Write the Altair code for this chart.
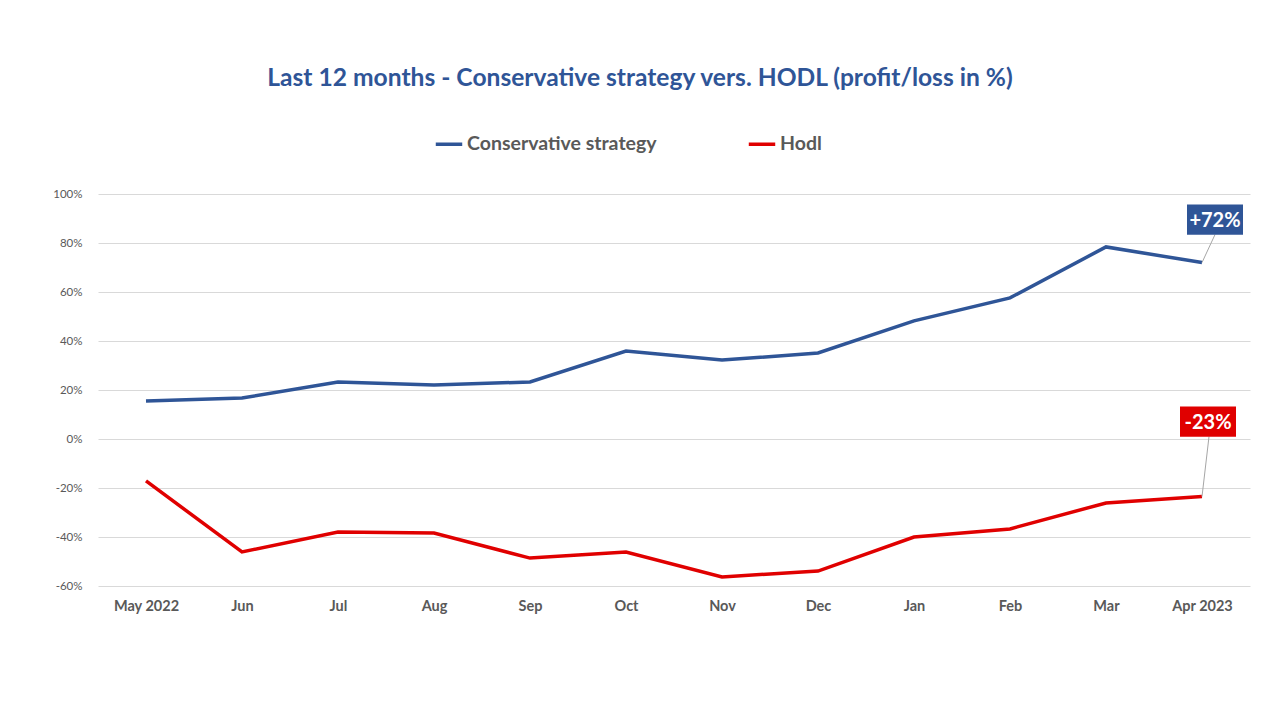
import altair as alt
import pandas as pd

months = ["May 2022", "Jun", "Jul", "Aug", "Sep", "Oct", "Nov", "Dec", "Jan", "Feb", "Mar", "Apr 2023"]
conservative = [15.5, 16.7, 23.3, 22.0, 23.3, 35.9, 32.2, 35.1, 48.2, 57.6, 78.4, 72.0]
hodl = [-17.1, -46.1, -38.0, -38.4, -48.6, -46.1, -56.3, -53.9, -40.0, -36.7, -26.1, -23.5]
series_names = ["Conservative strategy", "Hodl"]
series_colors = ["#2F5597", "#E00000"]
end_labels = ["+72%", "-23%"]

rows = []
for m, c, h in zip(months, conservative, hodl):
    rows.append({"month": m, "series": series_names[0], "value": c})
    rows.append({"month": m, "series": series_names[1], "value": h})
df = pd.DataFrame(rows)

last_blue = pd.DataFrame([{"month": months[-1], "value": conservative[-1], "label": end_labels[0]}])
last_red = pd.DataFrame([{"month": months[-1], "value": hodl[-1], "label": end_labels[1]}])

FONT = "Lato"
GRAY = "#595959"

x_enc = alt.X("month:N", sort=months, title=None,
              scale=alt.Scale(type="point", padding=0.5),
              axis=alt.Axis(labelAngle=0, labelFont=FONT, labelFontSize=14.5, labelFontWeight="bold",
                            labelColor=GRAY, labelPadding=13, ticks=False, domain=False, grid=False))
y_scale = alt.Scale(domain=[-60, 100], nice=False)
y_enc = alt.Y("value:Q", title=None, scale=y_scale,
              axis=alt.Axis(values=list(range(-60, 101, 20)), labelExpr="datum.value + '%'",
                            labelFont=FONT, labelFontSize=11.5, labelColor=GRAY, labelPadding=16,
                            ticks=False, domain=False, grid=True, gridColor="#D9D9D9", gridWidth=1))

lines = alt.Chart(df).mark_line(strokeWidth=3.5).encode(
    x=x_enc,
    y=y_enc,
    color=alt.Color("series:N", scale=alt.Scale(domain=series_names, range=series_colors),
                    legend=alt.Legend(title=None, orient="none", legendX=336, legendY=-65,
                                      direction="horizontal", symbolType="stroke", symbolSize=700,
                                      symbolStrokeWidth=3.5, labelFont=FONT, labelFontSize=19.5,
                                      labelFontWeight="bold", labelColor=GRAY, columnPadding=84,
                                      labelOffset=3, labelLimit=400)),
)

box_shape = "M-1,-0.54L1,-0.54L1,0.54L-1,0.54Z"

def annot(d, color, bx, by, lx, ly):
    xe = alt.X("month:N", sort=months, scale=alt.Scale(type="point", padding=0.5))
    ye = alt.Y("value:Q", scale=y_scale)
    rule = alt.Chart(d).mark_rule(color="#A6A6A6", strokeWidth=1, x2Offset=lx, y2Offset=ly).encode(
        x=xe, y=ye, x2="month:N", y2="value:Q")
    box = alt.Chart(d).mark_point(shape=box_shape, size=3136, filled=True, opacity=1, color=color,
                                  xOffset=bx, yOffset=by).encode(x=xe, y=ye)
    txt = alt.Chart(d).mark_text(font=FONT, fontSize=20, fontWeight="bold", color="white",
                                 xOffset=bx, yOffset=by + 1, baseline="middle", align="center").encode(
        x=xe, y=ye, text="label:N")
    return rule + box + txt

chart = alt.layer(
    lines,
    annot(last_blue, series_colors[0], 13, -43, 13, -28),
    annot(last_red, series_colors[1], 6, -75, 7, -60),
).properties(
    width=1152, height=392,
    background="white",
    title=alt.TitleParams("Last 12 months - Conservative strategy vers. HODL (profit/loss in %)",
                          font=FONT, fontSize=24.6, fontWeight="bold", color="#2F5597",
                          anchor="middle", dx=-34, offset=18, baseline="alphabetic"),
    autosize=alt.AutoSizeParams(type="none"),
    padding={"left": 90, "top": 186, "right": 22, "bottom": 106},
).configure_view(stroke=None)

chart.save("out.html", embed_options={"renderer": "svg", "actions": False})
